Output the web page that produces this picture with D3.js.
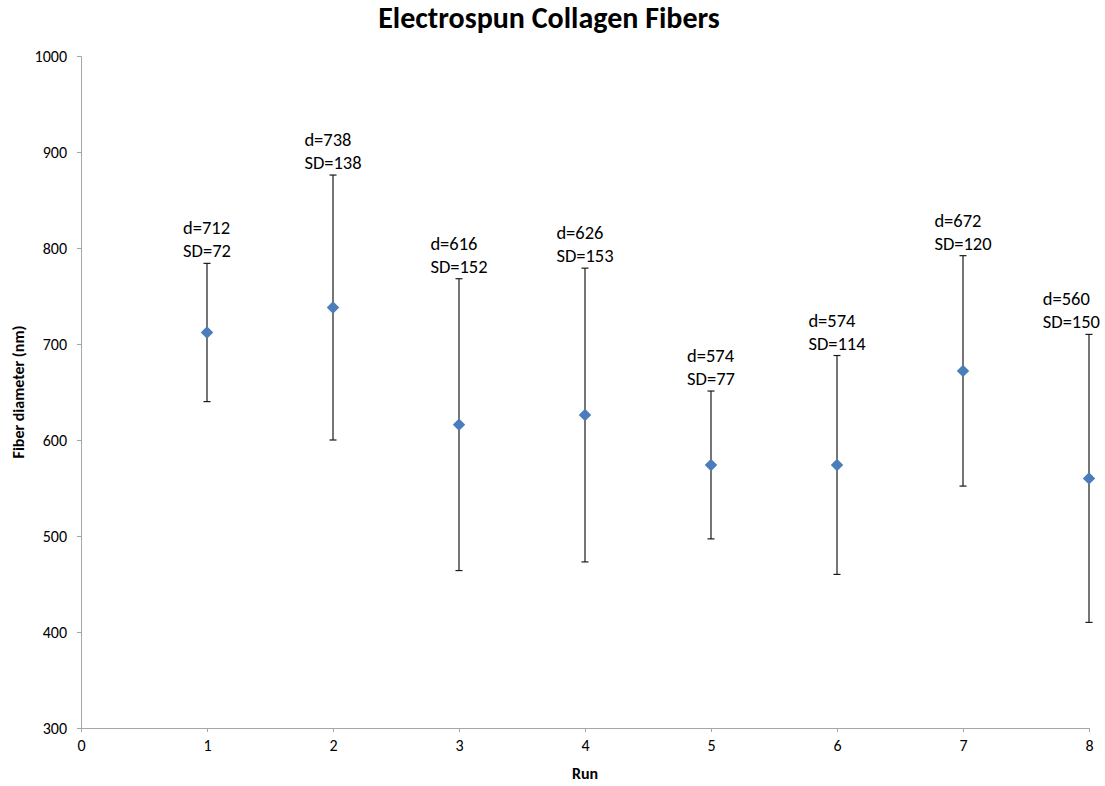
<!DOCTYPE html>
<html>
<head>
<meta charset="utf-8">
<script src="https://cdn.jsdelivr.net/npm/d3@7"></script>
<style>
  body { margin: 0; background: #fff; }
  text { font-family: Carlito, Calibri, "Open Sans", "Noto Sans", sans-serif; }
</style>
</head>
<body>
<svg id="chart" width="1105" height="786"></svg>
<script>
// Mean fiber diameter and standard deviation for each electrospinning run
const runs = [1, 2, 3, 4, 5, 6, 7, 8];
const diameters = [712, 738, 616, 626, 574, 574, 672, 560];
const stdDevs = [72, 138, 152, 153, 77, 114, 120, 150];
const xTicks = [0, 1, 2, 3, 4, 5, 6, 7, 8];
const yTicks = [300, 400, 500, 600, 700, 800, 900, 1000];

const svg = d3.select("#chart");
const margin = { left: 81, right: 16, top: 56, bottom: 58 };
const W = 1105, H = 786;

const x = d3.scaleLinear().domain([0, 8]).range([margin.left, W - margin.right]);
const y = d3.scaleLinear().domain([300, 1000]).range([H - margin.bottom, margin.top]);

const axisColor = "#a6a6a6";
const fontStack = "Carlito, Calibri, 'Open Sans', 'Noto Sans', sans-serif";

// Title
svg.append("text")
  .attr("x", 549).attr("y", 28)
  .attr("text-anchor", "middle")
  .attr("font-size", 30).attr("font-weight", "bold")
  .text("Electrospun Collagen Fibers");

// Y axis
const yAxis = svg.append("g")
  .attr("transform", `translate(${x(0)},0)`)
  .call(d3.axisLeft(y).tickValues(yTicks).tickSize(4).tickPadding(10).tickFormat(d3.format("d")));
// X axis
const xAxis = svg.append("g")
  .attr("transform", `translate(0,${y(300)})`)
  .call(d3.axisBottom(x).tickValues(xTicks).tickSize(4).tickPadding(8).tickFormat(d3.format("d")));

[yAxis, xAxis].forEach(g => {
  g.select(".domain").attr("stroke", axisColor).attr("stroke-width", 1);
  g.selectAll(".tick line").attr("stroke", axisColor);
  g.selectAll(".tick text").attr("fill", "#000").attr("font-size", 16)
    .style("font-family", fontStack);
});

// Axis titles
svg.append("text")
  .attr("transform", `translate(24,${(y(300) + y(1000)) / 2}) rotate(-90)`)
  .attr("text-anchor", "middle")
  .attr("font-size", 16).attr("font-weight", "bold")
  .text("Fiber diameter (nm)");
svg.append("text")
  .attr("x", (x(0) + x(8)) / 2).attr("y", 779)
  .attr("text-anchor", "middle")
  .attr("font-size", 16).attr("font-weight", "bold")
  .text("Run");

const data = runs.map((r, i) => ({ run: r, d: diameters[i], sd: stdDevs[i] }));

// Error bars
const eb = svg.append("g").attr("stroke", "#1a1a1a").attr("stroke-width", 1.2);
data.forEach(p => {
  const cx = x(p.run), top = y(p.d + p.sd), bot = y(p.d - p.sd);
  eb.append("line").attr("x1", cx).attr("x2", cx).attr("y1", top).attr("y2", bot);
  eb.append("line").attr("x1", cx - 3.5).attr("x2", cx + 3.5).attr("y1", top).attr("y2", top);
  eb.append("line").attr("x1", cx - 3.5).attr("x2", cx + 3.5).attr("y1", bot).attr("y2", bot);
});

// Diamond markers
svg.append("g").selectAll("path").data(data).join("path")
  .attr("transform", d => `translate(${x(d.run)},${y(d.d)}) rotate(45)`)
  .attr("d", "M-4.4,-4.4H4.4V4.4H-4.4Z")
  .attr("fill", "#4a7ebb");

// Value labels: two left-aligned lines, block centred above each error bar
const lbl = svg.append("g").attr("font-size", 18.5).attr("fill", "#000");
data.forEach(p => {
  const top = y(p.d + p.sd);
  const g = lbl.append("g");
  const t1 = g.append("text").attr("y", top - 29).text(`d=${p.d}`);
  const t2 = g.append("text").attr("y", top - 6).text(`SD=${p.sd}`);
  const w = Math.max(t1.node().getComputedTextLength(), t2.node().getComputedTextLength());
  const left = Math.min(x(p.run) - w / 2, W - 5 - w);
  g.selectAll("text").attr("x", left);
});
</script>
</body>
</html>
